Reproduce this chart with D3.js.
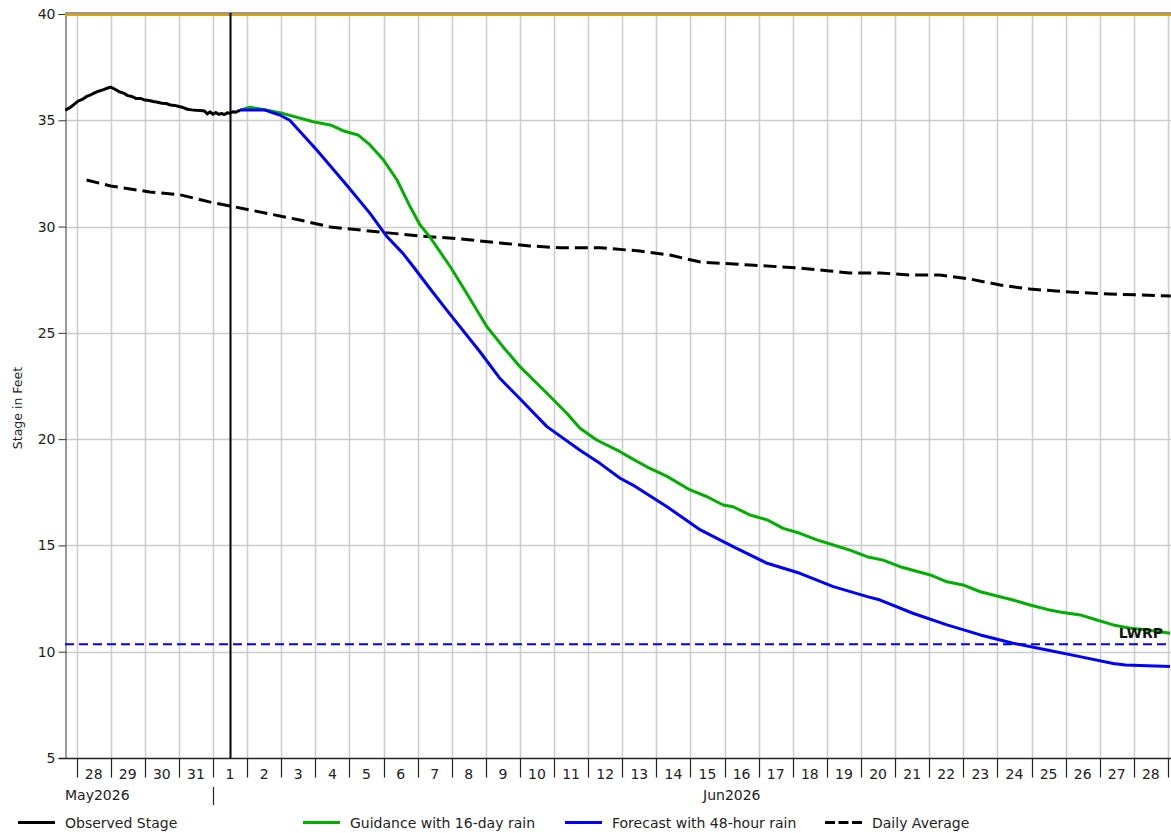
<!DOCTYPE html>
<html>
<head>
<meta charset="utf-8">
<script src="https://cdn.jsdelivr.net/npm/d3@7"></script>
<style>
  html, body { margin: 0; padding: 0; background: #fff; }
  svg { display: block; font-family: "DejaVu Sans", Verdana, sans-serif; }
</style>
</head>
<body>
<svg id="chart" width="1171" height="833"></svg>
<script>
// Stage hydrograph: observed stage, two forecast traces and the daily average.
const observedTimes = ["05-27 16:00","05-27 19:00","05-27 22:00","05-28 01:00","05-28 04:00","05-28 07:00","05-28 10:00","05-28 13:00","05-28 16:00","05-28 19:00","05-28 22:00","05-29 00:00","05-29 03:00","05-29 06:00","05-29 09:00","05-29 12:00","05-29 15:00","05-29 18:00","05-29 21:00","05-30 00:00","05-30 03:00","05-30 06:00","05-30 09:00","05-30 12:00","05-30 15:00","05-30 18:00","05-30 21:00","05-31 00:00","05-31 03:00","05-31 06:00","05-31 09:00","05-31 12:00","05-31 15:00","05-31 18:00","05-31 20:00","05-31 22:00","06-01 00:00","06-01 02:00","06-01 04:00","06-01 06:00","06-01 08:00","06-01 10:00","06-01 12:00","06-01 14:00","06-01 16:00","06-01 18:00","06-01 19:00"];
const observedStage = [35.48,35.58,35.74,35.90,35.98,36.12,36.20,36.30,36.38,36.44,36.52,36.56,36.46,36.34,36.28,36.16,36.12,36.02,36.03,35.95,35.93,35.88,35.85,35.80,35.79,35.72,35.70,35.65,35.60,35.52,35.49,35.47,35.46,35.44,35.30,35.40,35.28,35.36,35.28,35.32,35.27,35.35,35.33,35.40,35.38,35.45,35.45];

const guidanceTimes = ["06-01 19:00","06-02 02:00","06-02 12:30","06-02 23:00","06-03 22:30","06-04 10:30","06-04 19:30","06-05 06:00","06-05 14:30","06-06 00:00","06-06 09:30","06-06 18:45","06-07 01:30","06-07 08:30","06-07 23:00","06-08 10:30","06-09 00:45","06-09 12:00","06-10 00:00","06-10 19:00","06-11 09:00","06-11 18:15","06-12 06:00","06-12 22:30","06-13 07:30","06-13 17:15","06-14 07:30","06-14 23:45","06-15 11:45","06-15 23:00","06-16 06:00","06-16 18:00","06-17 06:00","06-17 17:15","06-18 05:00","06-18 17:00","06-19 04:30","06-19 16:15","06-20 04:15","06-20 15:30","06-21 03:30","06-22 00:45","06-22 12:30","06-22 23:45","06-23 12:00","06-23 23:45","06-24 11:00","06-24 23:00","06-25 11:00","06-25 22:15","06-26 10:15","06-26 22:00","06-27 09:30","06-27 21:30","06-28 09:30","06-29 01:30"];
const guidanceStage = [35.48,35.61,35.50,35.36,34.93,34.78,34.51,34.31,33.84,33.13,32.19,30.93,30.10,29.52,28.11,26.86,25.29,24.35,23.41,22.16,21.22,20.51,19.96,19.41,19.06,18.70,18.25,17.61,17.29,16.90,16.82,16.43,16.20,15.80,15.57,15.26,15.02,14.78,14.47,14.31,14.00,13.61,13.29,13.14,12.82,12.62,12.43,12.20,11.99,11.84,11.73,11.49,11.26,11.10,11.02,10.87];

const forecastTimes = ["06-01 19:00","06-02 12:30","06-02 23:00","06-03 06:00","06-04 01:00","06-04 22:00","06-05 14:30","06-06 02:30","06-06 13:30","06-06 21:00","06-07 08:30","06-07 20:30","06-08 20:00","06-09 10:00","06-10 00:00","06-10 19:00","06-11 18:00","06-12 08:30","06-12 22:30","06-13 07:30","06-14 07:30","06-15 07:00","06-16 06:00","06-17 06:00","06-18 05:00","06-19 04:30","06-20 04:30","06-20 13:30","06-21 12:30","06-22 12:30","06-23 12:00","06-24 11:00","06-25 11:00","06-26 10:00","06-27 09:30","06-27 18:00","06-29 01:30"];
const forecastStage = [35.48,35.48,35.25,35.00,33.60,31.96,30.62,29.52,28.75,28.11,27.10,26.07,24.10,22.85,21.90,20.59,19.49,18.85,18.16,17.84,16.82,15.73,14.94,14.16,13.69,13.06,12.59,12.43,11.81,11.26,10.79,10.40,10.08,9.77,9.45,9.37,9.30];

const averageTimes = ["05-28 07:00","05-29 00:00","05-30 03:30","05-31 01:00","06-01 00:40","06-01 12:00","06-02 12:30","06-03 13:00","06-04 10:30","06-05 21:30","06-07 01:30","06-08 06:00","06-09 10:00","06-10 07:00","06-11 04:00","06-12 08:30","06-13 12:30","06-14 09:30","06-15 07:00","06-16 18:00","06-18 05:00","06-19 02:00","06-19 16:00","06-20 13:30","06-21 10:30","06-22 07:30","06-23 05:00","06-24 02:00","06-24 23:00","06-26 03:00","06-27 07:00","06-29 02:00"];
const averageStage = [32.19,31.91,31.63,31.49,31.11,30.97,30.64,30.31,29.98,29.74,29.56,29.42,29.23,29.09,29.00,29.00,28.85,28.66,28.33,28.19,28.05,27.91,27.82,27.82,27.72,27.72,27.53,27.25,27.06,26.92,26.83,26.73];

const lwrpStage = 10.35;
const topStage = 40;
const currentTime = "06-01 12:00";
const yTicks = [5, 10, 15, 20, 25, 30, 35, 40];
const monthLabels = ["May2026", "Jun2026"];
const legendLabels = ["Observed Stage", "Guidance with 16-day rain", "Forecast with 48-hour rain", "Daily Average"];

const parse = d3.timeParse("%Y-%m-%d %H:%M");
const t = s => parse("2026-" + s);
const zip = (ts, vs) => ts.map((s, i) => ({ date: t(s), value: vs[i] }));

const svg = d3.select("#chart");
const plotLeft = 65, plotRight = 1171, plotTop = 14, plotBottom = 758;

const x = d3.scaleTime()
  .domain([new Date(2026, 4, 27, 15, 50), new Date(2026, 5, 29, 2, 10)])
  .range([plotLeft, plotRight]);
const y = d3.scaleLinear().domain([5, 40]).range([plotBottom, plotTop]);

svg.append("defs").append("clipPath").attr("id", "plot")
  .append("rect").attr("x", plotLeft).attr("y", plotTop - 2)
  .attr("width", plotRight - plotLeft).attr("height", plotBottom - plotTop + 4);

// day boundaries
const days = d3.timeDay.range(new Date(2026, 4, 28), new Date(2026, 5, 30));
const dayCenters = days.map(d => d3.timeHour.offset(d, 12));

// grid
const grid = svg.append("g");
grid.selectAll("line.v").data(days.filter(d => x(d) <= plotRight)).join("line")
  .attr("x1", d => Math.round(x(d)) + 0.5).attr("x2", d => Math.round(x(d)) + 0.5)
  .attr("y1", plotTop).attr("y2", plotBottom)
  .attr("stroke", "#cccccc").attr("stroke-width", 1.5);
grid.selectAll("line.h").data(yTicks.filter(v => v > 5 && v < 40)).join("line")
  .attr("x1", plotLeft).attr("x2", plotRight)
  .attr("y1", d => Math.round(y(d)) + 0.5).attr("y2", d => Math.round(y(d)) + 0.5)
  .attr("stroke", "#cccccc").attr("stroke-width", 1.5);

// frame
svg.append("line").attr("x1", plotLeft).attr("x2", plotRight).attr("y1", plotTop - 1).attr("y2", plotTop - 1)
  .attr("stroke", "#333").attr("stroke-width", 1);

// y axis
const yAxis = d3.axisLeft(y).tickValues(yTicks).tickSize(7).tickPadding(3).tickFormat(d3.format("d"));
const yg = svg.append("g").attr("transform", `translate(${plotLeft + 0.5},0)`).call(yAxis);
yg.select(".domain").attr("stroke", "#333");
yg.selectAll(".tick line").attr("stroke", "#333");
yg.selectAll("text").attr("font-size", 14).attr("fill", "#222").attr("font-family", "DejaVu Sans");

// x axis: ticks at midnight, labels at noon
const xg = svg.append("g").attr("transform", `translate(0,${plotBottom + 0.5})`);
xg.append("line").attr("x1", plotLeft - 6).attr("x2", plotRight).attr("stroke", "#222").attr("stroke-width", 1.5);
xg.selectAll("line.tick").data(days.filter(d => x(d) <= plotRight)).join("line")
  .attr("x1", d => Math.round(x(d)) + 0.5).attr("x2", d => Math.round(x(d)) + 0.5)
  .attr("y1", 0).attr("y2", 19).attr("stroke", "#222").attr("stroke-width", 1.2);
xg.selectAll("text.day").data(dayCenters.filter(d => x(d) < plotRight)).join("text")
  .attr("x", d => x(d)).attr("y", 20.5)
  .attr("text-anchor", "middle").attr("font-size", 14).attr("fill", "#222")
  .text(d => d.getDate());

svg.append("text").attr("x", plotLeft).attr("y", 800).attr("font-size", 14).attr("fill", "#222").text(monthLabels[0]);
svg.append("text").attr("x", 703).attr("y", 800).attr("font-size", 14).attr("fill", "#222").text(monthLabels[1]);
const monthX = Math.round(x(new Date(2026, 5, 1))) + 0.5;
svg.append("line").attr("x1", monthX).attr("x2", monthX)
  .attr("y1", 787).attr("y2", 805).attr("stroke", "#222").attr("stroke-width", 1.2);

svg.append("text")
  .attr("transform", `translate(22,408) rotate(-90)`)
  .attr("text-anchor", "middle").attr("font-size", 12.5).attr("fill", "#222")
  .text("Stage in Feet");

// series
const plot = svg.append("g").attr("clip-path", "url(#plot)");
const line = d3.line().x(d => x(d.date)).y(d => y(d.value));

plot.append("line").attr("x1", plotLeft).attr("x2", plotRight)
  .attr("y1", y(topStage) + 1).attr("y2", y(topStage) + 1)
  .attr("stroke", "#e0a400").attr("stroke-width", 2);

plot.append("line").attr("x1", plotLeft).attr("x2", plotRight)
  .attr("y1", y(lwrpStage)).attr("y2", y(lwrpStage))
  .attr("stroke", "#0000ff").attr("stroke-width", 2).attr("stroke-dasharray", "9,5");

plot.append("path").datum(zip(averageTimes, averageStage)).attr("d", line)
  .attr("fill", "none").attr("stroke", "#000").attr("stroke-width", 3).attr("stroke-dasharray", "13,6");

plot.append("path").datum(zip(guidanceTimes, guidanceStage)).attr("d", line)
  .attr("fill", "none").attr("stroke", "#00b000").attr("stroke-width", 3).attr("stroke-linejoin", "round");

plot.append("path").datum(zip(forecastTimes, forecastStage)).attr("d", line)
  .attr("fill", "none").attr("stroke", "#0000ff").attr("stroke-width", 3).attr("stroke-linejoin", "round");

plot.append("path").datum(zip(observedTimes, observedStage)).attr("d", line)
  .attr("fill", "none").attr("stroke", "#000").attr("stroke-width", 3).attr("stroke-linejoin", "round");

// current time marker
const nowX = Math.round(x(t(currentTime))) + 0.5;
svg.append("line").attr("x1", nowX).attr("x2", nowX).attr("y1", plotTop - 1).attr("y2", plotBottom)
  .attr("stroke", "#000").attr("stroke-width", 2);

svg.append("text").attr("x", 1163).attr("y", 638).attr("text-anchor", "end")
  .attr("font-size", 14).attr("font-weight", "bold").attr("fill", "#111").text("LWRP");

// legend
const legendItems = [
  { x: 18, color: "#000", dash: null },
  { x: 303, color: "#00b000", dash: null },
  { x: 565, color: "#0000ff", dash: null },
  { x: 825, color: "#000", dash: "10,3.5" }
];
const lg = svg.append("g");
legendItems.forEach((d, i) => {
  lg.append("line").attr("x1", d.x).attr("x2", d.x + 37).attr("y1", 822.5).attr("y2", 822.5)
    .attr("stroke", d.color).attr("stroke-width", 3).attr("stroke-dasharray", d.dash);
  lg.append("text").attr("x", d.x + 47).attr("y", 828).attr("font-size", 14).attr("fill", "#222")
    .text(legendLabels[i]);
});
</script>
</body>
</html>
